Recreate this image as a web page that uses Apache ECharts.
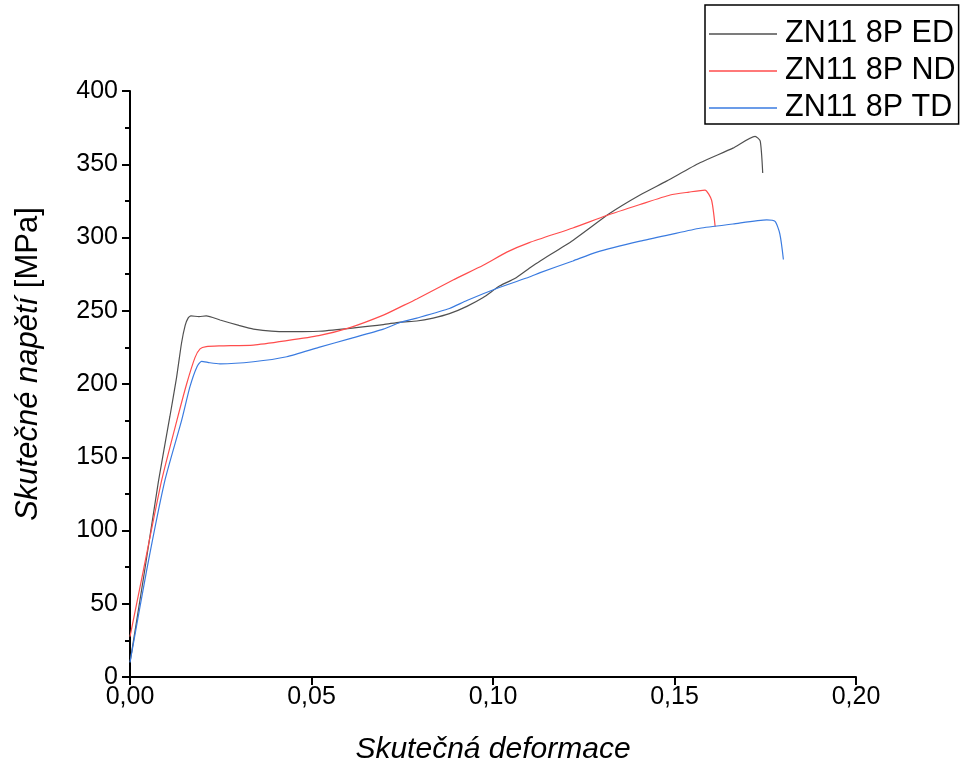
<!DOCTYPE html>
<html>
<head>
<meta charset="utf-8">
<script src="https://cdn.jsdelivr.net/npm/echarts@6/dist/echarts.min.js"></script>
<style>html,body{margin:0;padding:0;background:#fff}#c{width:962px;height:766px}</style>
</head>
<body>
<div id="c"></div>
<script>
const seriesNames = ['ZN11 8P ED', 'ZN11 8P ND', 'ZN11 8P TD'];
const xTicks = [0, 0.05, 0.10, 0.15, 0.20];
const yTicks = [0, 50, 100, 150, 200, 250, 300, 350, 400];

const edStrain = [0, 0.004, 0.0078, 0.011, 0.0128, 0.0142, 0.0152, 0.016, 0.0168, 0.019, 0.021, 0.0248, 0.03, 0.034, 0.043, 0.052, 0.0606, 0.0698, 0.0744, 0.079, 0.0835, 0.088, 0.0928, 0.0973, 0.1019, 0.106, 0.110, 0.113, 0.122, 0.1322, 0.1405, 0.1478, 0.157, 0.1661, 0.1722, 0.1736, 0.1743];
const edStress = [10, 72, 133, 178, 204, 228, 240, 245, 246.5, 246, 246.5, 243.7, 240, 237.5, 235.7, 236, 238, 240.5, 242.3, 243, 245, 248, 253, 259, 267, 272, 279, 284, 298, 316.5, 329, 338.5, 351, 361, 369, 366, 344];

const ndStrain = [0, 0.0037, 0.0087, 0.0129, 0.0156, 0.0179, 0.0193, 0.021, 0.0248, 0.034, 0.0432, 0.052, 0.0606, 0.0698, 0.0744, 0.079, 0.089, 0.0973, 0.1038, 0.110, 0.122, 0.1313, 0.1405, 0.1488, 0.154, 0.1584, 0.1602, 0.1612];
const ndStress = [27.5, 73, 134, 175, 200, 218, 224, 225.5, 226, 226.6, 229.6, 233, 238.5, 247, 252.5, 258, 271, 281, 290, 296.5, 306.5, 315, 322.5, 329, 331, 332.4, 325.6, 307.4];

const tdStrain = [0, 0.0046, 0.0096, 0.0142, 0.0165, 0.0184, 0.0197, 0.022, 0.0248, 0.034, 0.0432, 0.052, 0.0606, 0.0698, 0.0744, 0.079, 0.088, 0.0928, 0.1019, 0.110, 0.113, 0.122, 0.1286, 0.1405, 0.1488, 0.157, 0.1661, 0.1754, 0.1777, 0.179, 0.18];
const tdStress = [10, 73, 134, 175, 198, 211.5, 215.5, 214.5, 213.8, 215.2, 218.6, 225, 231, 237.5, 242, 245, 251.5, 257, 266, 273, 276, 284, 290, 297.5, 302, 306.3, 309.2, 312, 311, 302.7, 285];

const colors = ['#505050', '#ff4d4d', '#3a7be0'];
const zip = (a, b) => a.map((v, i) => [v, b[i]]);
const FONT = 'Liberation Sans, Arial, sans-serif';

const chart = echarts.init(document.getElementById('c'), null, {renderer: 'canvas'});
chart.setOption({
  animation: false,
  backgroundColor: '#fff',
  grid: {left: 130, right: 106, top: 91, bottom: 89, containLabel: false, outerBoundsMode: 'none'},
  legend: {
    orient: 'vertical',
    left: 705, top: 5,
    padding: [13, 3, 0, 4],
    itemGap: 5,
    itemWidth: 68, itemHeight: 1.5,
    icon: 'rect',
    borderColor: '#000', borderWidth: 1.5,
    textStyle: {fontSize: 30.5, fontFamily: FONT, color: '#000', lineHeight: 32, padding: [0, 0, 0, 3]},
    data: seriesNames
  },
  xAxis: {
    type: 'value', min: 0, max: 0.2, interval: 0.05,
    name: 'Skutečná deformace', nameLocation: 'middle', nameGap: 58,
    nameTextStyle: {fontSize: 30, fontStyle: 'italic', fontFamily: FONT, color: '#000'},
    axisLine: {show: true, lineStyle: {color: '#000', width: 2}},
    axisTick: {show: true, length: 8, lineStyle: {color: '#000', width: 2}},
    axisLabel: {fontSize: 25, fontFamily: FONT, color: '#000', margin: 8,
      formatter: v => v.toFixed(2).replace('.', ',')},
    splitLine: {show: false}
  },
  yAxis: {
    type: 'value', min: 0, max: 400, interval: 50,
    name: '{a|Skutečné napětí} {b|[MPa]}', nameLocation: 'middle', nameGap: 86,
    nameTextStyle: {fontSize: 31, fontFamily: FONT, color: '#000', padding: [0, 0, 0, 40],
      rich: {a: {fontSize: 31, fontStyle: 'italic', fontFamily: FONT, color: '#000'},
             b: {fontSize: 31, fontFamily: FONT, color: '#000'}}},
    axisLine: {show: true, lineStyle: {color: '#000', width: 2}},
    axisTick: {show: true, length: 8, lineStyle: {color: '#000', width: 2}},
    minorTick: {show: true, splitNumber: 2, length: 5, lineStyle: {color: '#000', width: 2}},
    axisLabel: {fontSize: 25, fontFamily: FONT, color: '#000', margin: 12},
    splitLine: {show: false}
  },
  series: [
    {name: seriesNames[0], type: 'line', data: zip(edStrain, edStress), showSymbol: false, symbol: 'none', smooth: 0.2,
      lineStyle: {color: colors[0], width: 1.2}, itemStyle: {color: colors[0]}},
    {name: seriesNames[1], type: 'line', data: zip(ndStrain, ndStress), showSymbol: false, symbol: 'none', smooth: 0.2,
      lineStyle: {color: colors[1], width: 1.2}, itemStyle: {color: colors[1]}},
    {name: seriesNames[2], type: 'line', data: zip(tdStrain, tdStress), showSymbol: false, symbol: 'none', smooth: 0.2,
      lineStyle: {color: colors[2], width: 1.2}, itemStyle: {color: colors[2]}}
  ]
});
</script>
</body>
</html>
